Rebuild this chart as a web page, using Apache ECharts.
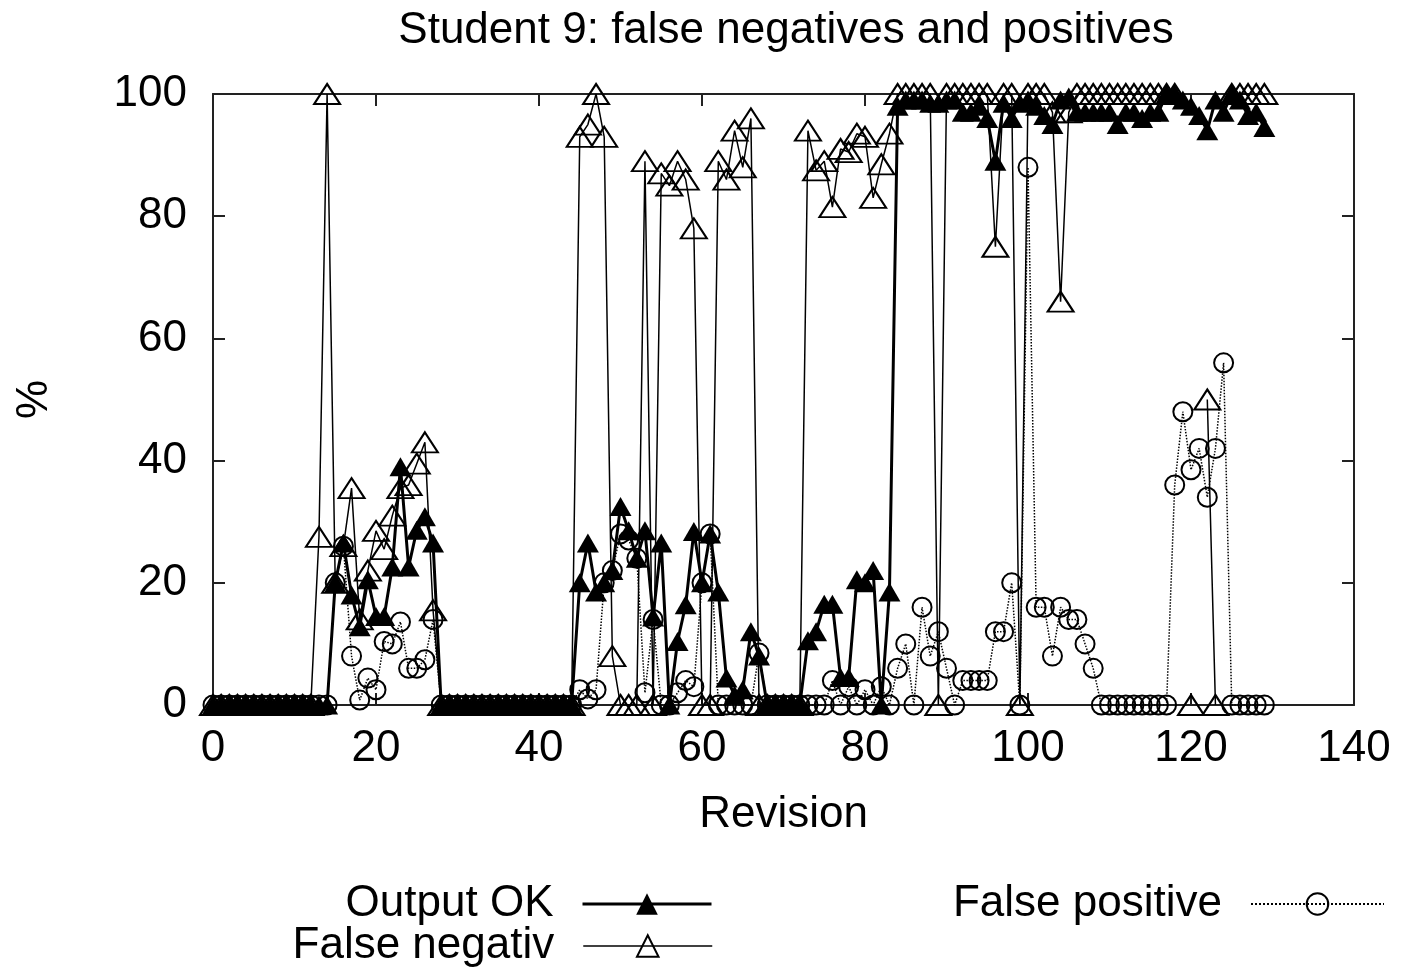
<!DOCTYPE html>
<html>
<head>
<meta charset="utf-8">
<script src="https://cdn.jsdelivr.net/npm/echarts@6/dist/echarts.min.js"></script>
<style>
html,body{margin:0;padding:0;background:#fff;}
#chart{width:1404px;height:970px;}
</style>
</head>
<body>
<div id="chart"></div>
<script>
// Revision index is the position in each array (0..129)
const outputOK = [
  0,0,0,0,0,0,0,0,0,0,0,0,0,0,0,
  20,26.5,18,12.8,20.5,14.5,14.5,22.6,39,22.6,28.6,30.8,26.5,
  0,0,0,0,0,0,0,0,0,0,0,0,0,0,0,0,0,
  20,26.5,18.5,20,22,32.5,28.5,24,28.5,14.4,26.5,0,10.4,16.4,28.4,20,28,18.5,4.4,1.6,2.5,12,8,
  0,0,0,0,0,
  10.5,12,16.5,16.5,4.5,4.5,20.5,20,22,0,18.5,
  98,99,99,99,98.5,98.5,99,99,97,97,98,96,89,98.5,96,98.5,99,98,96.5,95,99,99.5,97,97,97,97,97,95,97,97,96,97,97,100,100,99,98,96.5,94,99,97,100,99,96.5,97,94.5
];
const falseNegative = [
  0,0,0,0,0,0,0,0,0,0,0,0,0,
  27.5,100,20,26,35.5,14,22,28.5,25.5,31,35.5,36,39.5,43,15.5,
  0,0,0,0,0,0,0,0,0,0,0,0,0,0,0,0,0,
  93,95,100,93,8,0,0,0,89,0,87,85,89,86,78,0,0,89,86,94,88,96,
  0,0,0,0,0,0,
  94,87.5,89,81.5,91,90.5,93.5,93,83,88.5,93.5,
  100,100,100,100,100,0,100,100,100,100,100,100,75,100,100,0,100,100,100,97,66,97,
  100,100,100,100,100,100,100,100,100,100,100,100,100,null,
  0,null,50,0,null,100,100,100,100,100
];
const falsePositive = [
  0,0,0,0,0,0,0,0,0,0,0,0,0,0,0,
  20,26,8,0.8,4.4,2.5,10.4,10,13.6,6,6,7.4,14,
  0,0,0,0,0,0,0,0,0,0,0,0,0,0,0,0,0,
  2.5,1,2.5,20,22,28,27,24,2,14,0,0,2,4,3,20,28,0,0,0,0,0,8.5,
  0,0,0,0,0,0,0,0,4,0,3,0,2.5,0,3,0,
  6,10,0,16,8,12,6,0,4,4,4,4,12,12,20,0,88,16,16,8,16,14,14,10,6,
  0,0,0,0,0,0,0,0,0,
  36,48,38.5,42,34,42,56,
  0,0,0,0,0
];
const xTicks = {min: 0, max: 140, interval: 20};
const yTicks = {min: 0, max: 100, interval: 20};

const FONT = 'Liberation Sans, Arial, Helvetica, sans-serif';
const toPairs = arr => arr.map((v, i) => [i, v]);

function axisCommon() {
  return {
    axisLine: {show: true, onZero: false, lineStyle: {color: '#222', width: 2}},
    axisTick: {show: true, inside: true, length: 12, lineStyle: {color: '#222', width: 2}},
    splitLine: {show: false}
  };
}

const legendText = {fontFamily: FONT, fontSize: 44, color: '#000', padding: [0, 24, 0, 0]};

const chart = echarts.init(document.getElementById('chart'), null, {renderer: 'canvas'});
chart.setOption({
  animation: false,
  backgroundColor: '#fff',
  title: {
    text: 'Student 9: false negatives and positives',
    left: 781, top: 4, textAlign: 'center',
    textStyle: {fontFamily: FONT, fontSize: 44, fontWeight: 'normal', color: '#000'}
  },
  grid: {left: 213, right: 50, top: 94, bottom: 265, containLabel: false},
  legend: [
    {
      data: ['Output OK'], align: 'right',
      right: 686, top: 877,
      itemWidth: 129, itemHeight: 27,
      lineStyle: {width: 3, color: '#000'},
      textStyle: legendText
    },
    {
      data: ['False negativ'], align: 'right',
      right: 686, top: 919,
      itemWidth: 129, itemHeight: 27,
      lineStyle: {width: 1.5, color: '#000'},
      textStyle: legendText
    },
    {
      data: ['False positive'], align: 'right',
      right: 14, top: 877,
      itemWidth: 133, itemHeight: 27,
      textStyle: legendText
    }
  ],
  xAxis: [
    Object.assign(axisCommon(), {
      type: 'value', position: 'bottom',
      min: xTicks.min, max: xTicks.max, interval: xTicks.interval,
      name: 'Revision', nameLocation: 'middle', nameGap: 88,
      nameTextStyle: {fontFamily: FONT, fontSize: 44, color: '#000'},
      axisLabel: {fontFamily: FONT, fontSize: 44, color: '#000', margin: 22}
    }),
    Object.assign(axisCommon(), {
      type: 'value', position: 'top',
      min: xTicks.min, max: xTicks.max, interval: xTicks.interval,
      axisLabel: {show: false}
    })
  ],
  yAxis: [
    Object.assign(axisCommon(), {
      type: 'value', position: 'left',
      min: yTicks.min, max: yTicks.max, interval: yTicks.interval,
      name: '%', nameLocation: 'middle', nameGap: 156, nameRotate: 90,
      nameTextStyle: {fontFamily: FONT, fontSize: 44, color: '#000'},
      axisLabel: {fontFamily: FONT, fontSize: 44, color: '#000', margin: 26}
    }),
    Object.assign(axisCommon(), {
      type: 'value', position: 'right',
      min: yTicks.min, max: yTicks.max, interval: yTicks.interval,
      axisLabel: {show: false}
    })
  ],
  series: [
    {
      name: 'Output OK', type: 'line',
      data: toPairs(outputOK),
      symbol: 'triangle', symbolSize: [22, 19],
      lineStyle: {color: '#000', width: 3},
      itemStyle: {color: '#000', borderColor: '#000', borderWidth: 0},
      z: 2
    },
    {
      name: 'False negativ', type: 'line',
      data: toPairs(falseNegative),
      connectNulls: false,
      symbol: 'triangle', symbolSize: [26, 20],
      lineStyle: {color: '#000', width: 1.5},
      itemStyle: {color: 'rgba(255,255,255,0)', borderColor: '#000', borderWidth: 2},
      z: 3
    },
    {
      name: 'False positive', type: 'line',
      data: toPairs(falsePositive),
      symbol: 'circle', symbolSize: 19,
      lineStyle: {color: '#000', width: 1.5, type: 'dotted'},
      itemStyle: {color: 'rgba(255,255,255,0)', borderColor: '#000', borderWidth: 2},
      z: 4
    }
  ]
});
</script>
</body>
</html>
